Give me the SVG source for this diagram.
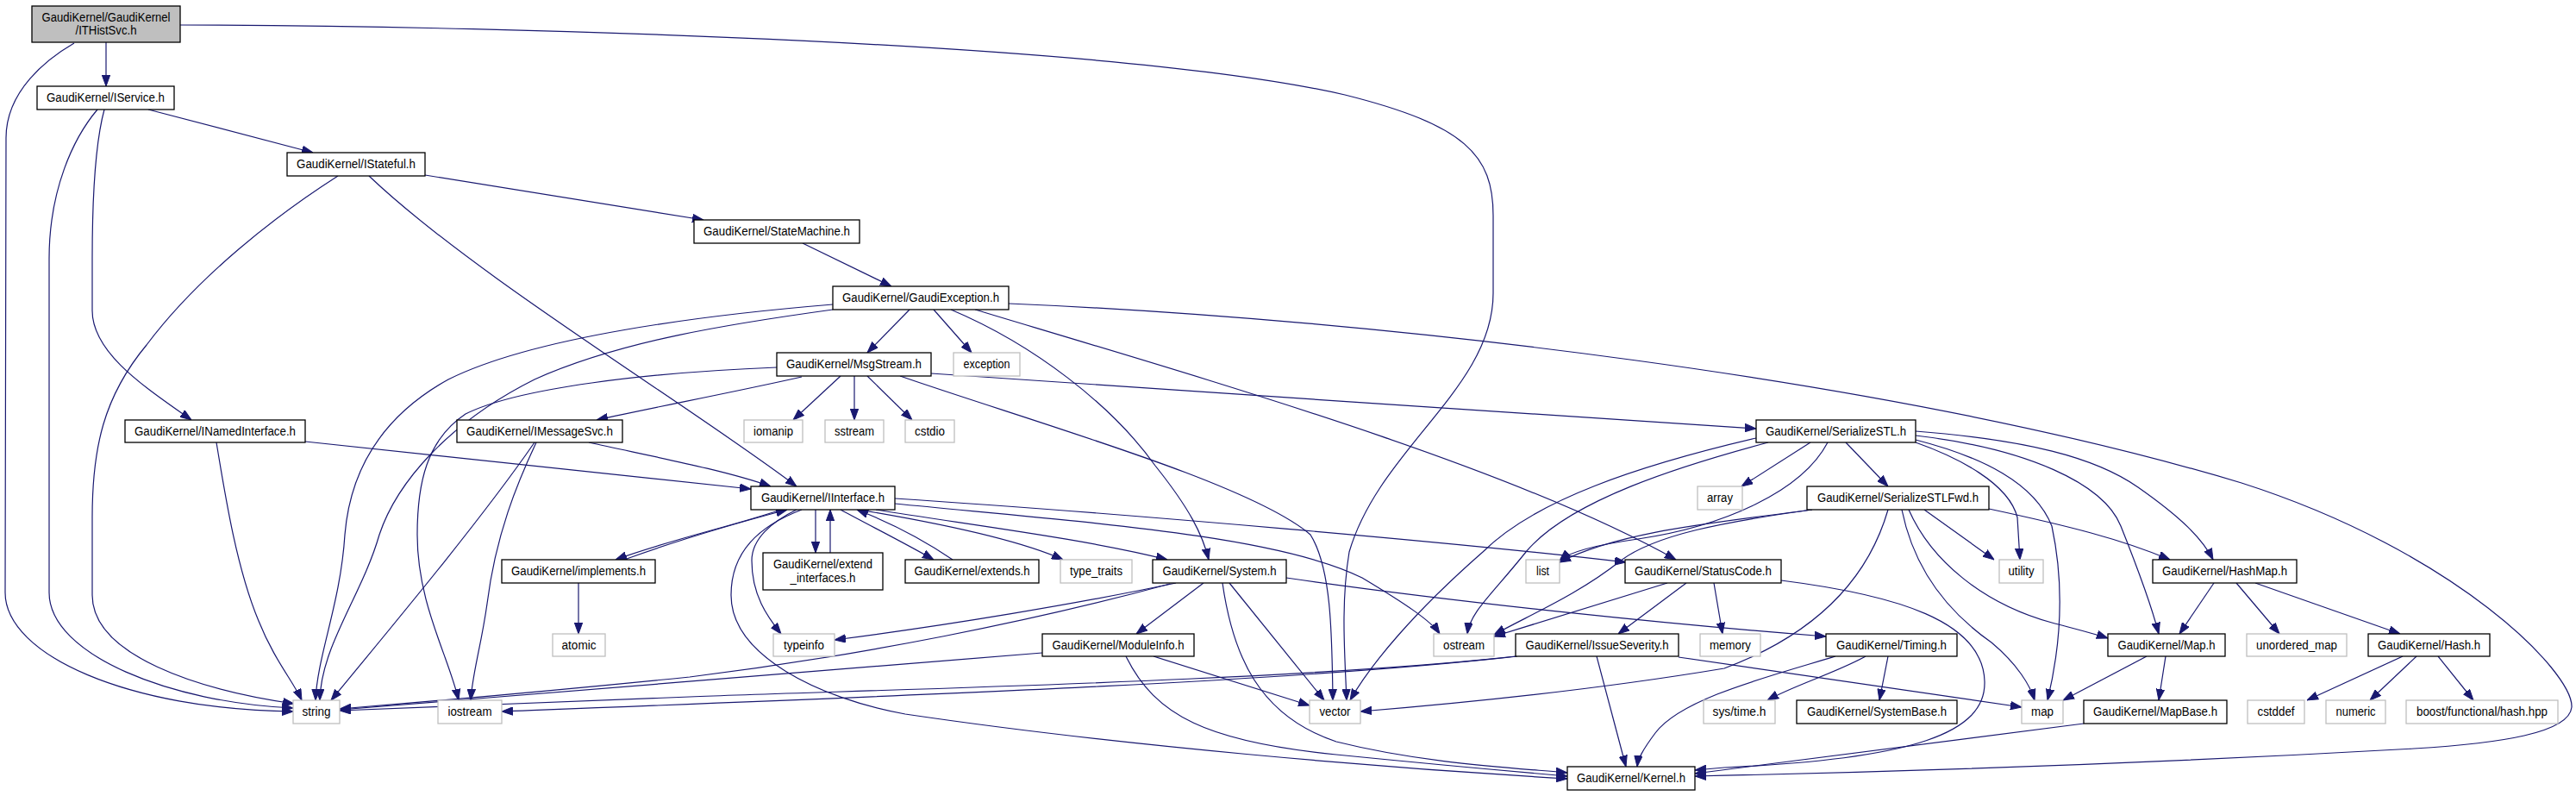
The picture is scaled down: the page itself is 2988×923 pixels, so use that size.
<svg xmlns="http://www.w3.org/2000/svg" width="2988" height="923" viewBox="0 0 2988 923">
<style>
.n rect{fill:#fff;stroke:#000;stroke-width:1.3}
.g rect{fill:#fff;stroke:#bfbfbf;stroke-width:1.3}
.r rect{fill:#bfbfbf;stroke:#000;stroke-width:1.3}
text{font-family:"Liberation Sans",Arial,sans-serif;font-size:14px;fill:#000;text-anchor:middle}
#edges path{fill:none;stroke:#191970;stroke-width:1.2;marker-end:url(#a)}
</style>
<defs>
<marker id="a" viewBox="0 0 13 10" markerWidth="13" markerHeight="10" refX="13" refY="5" orient="auto" markerUnits="userSpaceOnUse">
<path d="M0,0.3 L13,5 L0,9.7 z" fill="#191970" stroke="#191970" stroke-width="1"/>
</marker>
</defs>
<rect width="2988" height="923" fill="#fff"/>
<g id="edges">
<path d="M123,49 L123,100"/>
<path d="M86,50 C55,68 7,105 7,160 L6,687 C6,760 150,823 340,825"/>
<path d="M209,29 C600,30 1300,50 1560,110 C1700,145 1732,180 1732,250 L1732,340 C1732,450 1600,520 1565,640 C1555,700 1560,760 1562,812"/>
<path d="M113,127 C85,160 57,220 57,300 L57,687 C57,760 200,815 340,821"/>
<path d="M121,127 C112,160 107,220 107,300 L107,360 C107,410 170,450 222,487"/>
<path d="M172,127 L363,177"/>
<path d="M392,204 C320,250 230,320 170,400 C120,460 107,520 107,600 L107,690 C107,760 230,800 341,816"/>
<path d="M428,204 C550,320 800,470 924,564"/>
<path d="M493,203 L816,255"/>
<path d="M931,282 L1034,332"/>
<path d="M1055,359 L1006,409"/>
<path d="M1083,359 L1127,409"/>
<path d="M966,353 C820,365 620,390 520,440 C430,490 405,560 400,620 C395,700 368,760 366,812"/>
<path d="M966,359 C850,375 720,395 620,440 C520,490 460,560 440,620 C420,690 372,750 371,812"/>
<path d="M901,426 C750,432 600,450 540,480 C495,510 484,560 484,620 C484,700 520,760 532,812"/>
<path d="M930,437 C850,455 760,472 692,487"/>
<path d="M975,436 L920,487"/>
<path d="M991,436 L991,487"/>
<path d="M1006,436 L1058,487"/>
<path d="M1080,433 C1300,450 1800,480 2037,497"/>
<path d="M1044,436 C1200,490 1450,560 1520,620 C1545,660 1545,740 1546,812"/>
<path d="M683,513 C760,530 840,545 894,564"/>
<path d="M620,513 C560,600 460,720 384,812"/>
<path d="M622,513 C600,560 575,620 565,700 C558,750 548,780 546,812"/>
<path d="M251,513 C262,580 275,660 300,720 C318,765 340,790 350,812"/>
<path d="M354,512 L871,567"/>
<path d="M906,591 C850,610 780,625 714,649"/>
<path d="M724,649 C790,625 860,605 913,591"/>
<path d="M946,591 L946,641"/>
<path d="M963,641 L963,591"/>
<path d="M975,591 C1010,610 1050,630 1083,649"/>
<path d="M1105,649 C1070,625 1030,605 994,591"/>
<path d="M996,591 C1080,605 1180,625 1233,649"/>
<path d="M1016,591 C1120,608 1260,625 1354,649"/>
<path d="M1038,578 C1300,595 1700,630 1886,652"/>
<path d="M1038,584 C1250,605 1480,620 1580,670 C1630,700 1660,720 1670,735"/>
<path d="M924,591 C895,605 872,625 872,650 C872,690 890,715 906,735"/>
<path d="M930,591 C880,610 848,640 848,690 C848,760 950,810 1050,828 C1300,865 1600,890 1818,903"/>
<path d="M671,676 L671,735"/>
<path d="M1364,676 C1250,700 1100,725 968,742"/>
<path d="M1357,677 C1200,720 1000,760 800,785 C600,805 480,815 394,822"/>
<path d="M1396,676 L1318,735"/>
<path d="M1426,676 L1536,812"/>
<path d="M1418,676 C1430,760 1460,830 1550,860 C1650,885 1750,890 1818,896"/>
<path d="M1492,670 C1700,700 1950,725 2118,738"/>
<path d="M1103,359 C1200,400 1290,470 1340,540 C1380,590 1395,620 1402,649"/>
<path d="M1131,359 C1400,440 1750,540 1944,649"/>
<path d="M1170,352 C1600,370 2200,440 2600,560 C2850,640 2985,780 2983,820 C2980,850 2900,862 2800,868 C2500,885 2200,895 1966,900"/>
<path d="M1209,757 C1000,775 700,800 394,823"/>
<path d="M1338,761 L1519,818"/>
<path d="M1306,761 C1340,830 1400,860 1550,875 C1680,888 1760,895 1818,900"/>
<path d="M1758,761 C1500,790 1000,800 800,808 C600,815 480,820 394,824"/>
<path d="M1760,761 C1500,790 1100,805 582,825"/>
<path d="M1852,761 L1886,889"/>
<path d="M1947,762 L2345,820"/>
<path d="M1934,676 L1733,738"/>
<path d="M1956,676 L1877,735"/>
<path d="M1988,676 L1998,735"/>
<path d="M2066,673 C2200,690 2300,720 2302,790 C2304,850 2220,880 2000,890 L1966,893"/>
<path d="M2164,761 C2130,780 2080,795 2050,812"/>
<path d="M2190,761 L2180,812"/>
<path d="M2129,761 C2050,785 1950,810 1920,850 C1905,870 1900,880 1899,889"/>
<path d="M2190,591 C2170,660 2120,730 2000,775 C1850,800 1700,815 1578,825"/>
<path d="M2100,513 L2020,564"/>
<path d="M2141,513 L2190,564"/>
<path d="M2120,513 C2090,570 2000,610 1900,625 C1850,632 1820,640 1809,650"/>
<path d="M2102,591 C2000,605 1880,615 1809,652"/>
<path d="M2102,591 C2000,605 1920,620 1880,650 C1830,690 1770,715 1733,736"/>
<path d="M2051,513 C1950,540 1820,580 1770,640 C1730,690 1705,710 1702,735"/>
<path d="M2037,508 C1900,540 1780,580 1720,640 C1640,710 1590,770 1566,812"/>
<path d="M2222,500 C2350,510 2430,530 2480,565 C2530,600 2555,625 2567,649"/>
<path d="M2222,505 C2350,520 2440,560 2460,610 C2480,660 2495,700 2504,735"/>
<path d="M2222,510 C2300,530 2360,560 2380,610 C2395,680 2390,750 2375,812"/>
<path d="M2222,513 C2270,530 2330,560 2340,600 L2343,649"/>
<path d="M2307,590 C2400,610 2460,625 2517,649"/>
<path d="M2232,591 L2313,649"/>
<path d="M2214,591 C2240,650 2300,700 2380,722 C2410,730 2430,735 2445,740"/>
<path d="M2206,591 C2220,660 2260,710 2310,745 C2340,770 2355,795 2360,812"/>
<path d="M2568,676 L2528,735"/>
<path d="M2594,676 L2644,735"/>
<path d="M2616,676 L2784,735"/>
<path d="M2490,761 L2393,812"/>
<path d="M2512,761 L2504,812"/>
<path d="M2417,839 C2250,860 2100,880 1966,897"/>
<path d="M2787,761 L2676,812"/>
<path d="M2803,761 L2749,812"/>
<path d="M2828,761 L2869,812"/>
</g>
<g id="n1" class="r"><rect x="37" y="7" width="172" height="42"/><text x="123" y="25" textLength="149" lengthAdjust="spacingAndGlyphs">GaudiKernel/GaudiKernel</text><text x="123" y="40" textLength="71" lengthAdjust="spacingAndGlyphs">/ITHistSvc.h</text></g>
<g id="n2" class="n"><rect x="43" y="100" width="159" height="27"/><text x="122.5" y="118" textLength="137" lengthAdjust="spacingAndGlyphs">GaudiKernel/IService.h</text></g>
<g id="n3" class="n"><rect x="333" y="177" width="160" height="27"/><text x="413" y="195" textLength="138" lengthAdjust="spacingAndGlyphs">GaudiKernel/IStateful.h</text></g>
<g id="n4" class="n"><rect x="805" y="255" width="192" height="27"/><text x="901" y="273" textLength="170" lengthAdjust="spacingAndGlyphs">GaudiKernel/StateMachine.h</text></g>
<g id="n5" class="n"><rect x="966" y="332" width="204" height="27"/><text x="1068" y="350" textLength="182" lengthAdjust="spacingAndGlyphs">GaudiKernel/GaudiException.h</text></g>
<g id="n6" class="n"><rect x="901" y="409" width="179" height="27"/><text x="990.5" y="427" textLength="157" lengthAdjust="spacingAndGlyphs">GaudiKernel/MsgStream.h</text></g>
<g id="n7" class="g"><rect x="1106" y="409" width="77" height="27"/><text x="1144.5" y="427" textLength="54" lengthAdjust="spacingAndGlyphs">exception</text></g>
<g id="n8" class="n"><rect x="145" y="487" width="209" height="26"/><text x="249.5" y="504.5" textLength="187" lengthAdjust="spacingAndGlyphs">GaudiKernel/INamedInterface.h</text></g>
<g id="n9" class="n"><rect x="530" y="487" width="192" height="26"/><text x="626" y="504.5" textLength="170" lengthAdjust="spacingAndGlyphs">GaudiKernel/IMessageSvc.h</text></g>
<g id="n10" class="g"><rect x="863" y="487" width="68" height="26"/><text x="897" y="504.5" textLength="46" lengthAdjust="spacingAndGlyphs">iomanip</text></g>
<g id="n11" class="g"><rect x="957" y="487" width="68" height="26"/><text x="991" y="504.5" textLength="46" lengthAdjust="spacingAndGlyphs">sstream</text></g>
<g id="n12" class="g"><rect x="1050" y="487" width="57" height="26"/><text x="1078.5" y="504.5" textLength="35" lengthAdjust="spacingAndGlyphs">cstdio</text></g>
<g id="n13" class="n"><rect x="2037" y="487" width="185" height="26"/><text x="2129.5" y="504.5" textLength="163" lengthAdjust="spacingAndGlyphs">GaudiKernel/SerializeSTL.h</text></g>
<g id="n14" class="n"><rect x="871" y="564" width="167" height="27"/><text x="954.5" y="582" textLength="143" lengthAdjust="spacingAndGlyphs">GaudiKernel/IInterface.h</text></g>
<g id="n15" class="g"><rect x="1969" y="564" width="52" height="27"/><text x="1995" y="582" textLength="30" lengthAdjust="spacingAndGlyphs">array</text></g>
<g id="n16" class="n"><rect x="2096" y="564" width="211" height="27"/><text x="2201.5" y="582" textLength="187" lengthAdjust="spacingAndGlyphs">GaudiKernel/SerializeSTLFwd.h</text></g>
<g id="n17" class="n"><rect x="582" y="649" width="178" height="27"/><text x="671" y="667" textLength="156" lengthAdjust="spacingAndGlyphs">GaudiKernel/implements.h</text></g>
<g id="n18" class="n"><rect x="885" y="641" width="139" height="43"/><text x="954.5" y="659" textLength="115" lengthAdjust="spacingAndGlyphs">GaudiKernel/extend</text><text x="954.5" y="675" textLength="76" lengthAdjust="spacingAndGlyphs">_interfaces.h</text></g>
<g id="n19" class="n"><rect x="1050" y="649" width="155" height="27"/><text x="1127.5" y="667" textLength="134" lengthAdjust="spacingAndGlyphs">GaudiKernel/extends.h</text></g>
<g id="n20" class="g"><rect x="1230" y="649" width="83" height="27"/><text x="1271.5" y="667" textLength="61" lengthAdjust="spacingAndGlyphs">type_traits</text></g>
<g id="n21" class="n"><rect x="1337" y="649" width="155" height="27"/><text x="1414.5" y="667" textLength="132" lengthAdjust="spacingAndGlyphs">GaudiKernel/System.h</text></g>
<g id="n22" class="g"><rect x="1770" y="649" width="39" height="27"/><text x="1789.5" y="667" textLength="15" lengthAdjust="spacingAndGlyphs">list</text></g>
<g id="n23" class="n"><rect x="1885" y="649" width="181" height="27"/><text x="1975.5" y="667" textLength="159" lengthAdjust="spacingAndGlyphs">GaudiKernel/StatusCode.h</text></g>
<g id="n24" class="g"><rect x="2319" y="649" width="51" height="27"/><text x="2344.5" y="667" textLength="30" lengthAdjust="spacingAndGlyphs">utility</text></g>
<g id="n25" class="n"><rect x="2497" y="649" width="167" height="27"/><text x="2580.5" y="667" textLength="145" lengthAdjust="spacingAndGlyphs">GaudiKernel/HashMap.h</text></g>
<g id="n26" class="g"><rect x="641" y="735" width="61" height="26"/><text x="671.5" y="752.5" textLength="40" lengthAdjust="spacingAndGlyphs">atomic</text></g>
<g id="n27" class="g"><rect x="897" y="735" width="71" height="26"/><text x="932.5" y="752.5" textLength="47" lengthAdjust="spacingAndGlyphs">typeinfo</text></g>
<g id="n28" class="n"><rect x="1209" y="735" width="176" height="26"/><text x="1297" y="752.5" textLength="153" lengthAdjust="spacingAndGlyphs">GaudiKernel/ModuleInfo.h</text></g>
<g id="n29" class="g"><rect x="1663" y="735" width="70" height="26"/><text x="1698" y="752.5" textLength="48" lengthAdjust="spacingAndGlyphs">ostream</text></g>
<g id="n30" class="n"><rect x="1758" y="735" width="189" height="26"/><text x="1852.5" y="752.5" textLength="166" lengthAdjust="spacingAndGlyphs">GaudiKernel/IssueSeverity.h</text></g>
<g id="n31" class="g"><rect x="1972" y="735" width="70" height="26"/><text x="2007" y="752.5" textLength="48" lengthAdjust="spacingAndGlyphs">memory</text></g>
<g id="n32" class="n"><rect x="2118" y="735" width="152" height="26"/><text x="2194" y="752.5" textLength="128" lengthAdjust="spacingAndGlyphs">GaudiKernel/Timing.h</text></g>
<g id="n33" class="n"><rect x="2445" y="735" width="136" height="26"/><text x="2513" y="752.5" textLength="113" lengthAdjust="spacingAndGlyphs">GaudiKernel/Map.h</text></g>
<g id="n34" class="g"><rect x="2606" y="735" width="116" height="26"/><text x="2664" y="752.5" textLength="94" lengthAdjust="spacingAndGlyphs">unordered_map</text></g>
<g id="n35" class="n"><rect x="2747" y="735" width="141" height="26"/><text x="2817.5" y="752.5" textLength="119" lengthAdjust="spacingAndGlyphs">GaudiKernel/Hash.h</text></g>
<g id="n36" class="g"><rect x="340" y="812" width="54" height="27"/><text x="367" y="830" textLength="33" lengthAdjust="spacingAndGlyphs">string</text></g>
<g id="n37" class="g"><rect x="508" y="812" width="74" height="27"/><text x="545" y="830" textLength="51" lengthAdjust="spacingAndGlyphs">iostream</text></g>
<g id="n38" class="g"><rect x="1519" y="812" width="59" height="27"/><text x="1548.5" y="830" textLength="36" lengthAdjust="spacingAndGlyphs">vector</text></g>
<g id="n39" class="g"><rect x="1976" y="812" width="83" height="27"/><text x="2017.5" y="830" textLength="62" lengthAdjust="spacingAndGlyphs">sys/time.h</text></g>
<g id="n40" class="n"><rect x="2084" y="812" width="186" height="27"/><text x="2177" y="830" textLength="162" lengthAdjust="spacingAndGlyphs">GaudiKernel/SystemBase.h</text></g>
<g id="n41" class="g"><rect x="2345" y="812" width="48" height="27"/><text x="2369" y="830" textLength="26" lengthAdjust="spacingAndGlyphs">map</text></g>
<g id="n42" class="n"><rect x="2417" y="812" width="166" height="27"/><text x="2500" y="830" textLength="144" lengthAdjust="spacingAndGlyphs">GaudiKernel/MapBase.h</text></g>
<g id="n43" class="g"><rect x="2607" y="812" width="66" height="27"/><text x="2640" y="830" textLength="43" lengthAdjust="spacingAndGlyphs">cstddef</text></g>
<g id="n44" class="g"><rect x="2698" y="812" width="69" height="27"/><text x="2732.5" y="830" textLength="46" lengthAdjust="spacingAndGlyphs">numeric</text></g>
<g id="n45" class="g"><rect x="2791" y="812" width="176" height="27"/><text x="2879" y="830" textLength="152" lengthAdjust="spacingAndGlyphs">boost/functional/hash.hpp</text></g>
<g id="n46" class="n"><rect x="1818" y="889" width="148" height="27"/><text x="1892" y="907" textLength="126" lengthAdjust="spacingAndGlyphs">GaudiKernel/Kernel.h</text></g>
</svg>
